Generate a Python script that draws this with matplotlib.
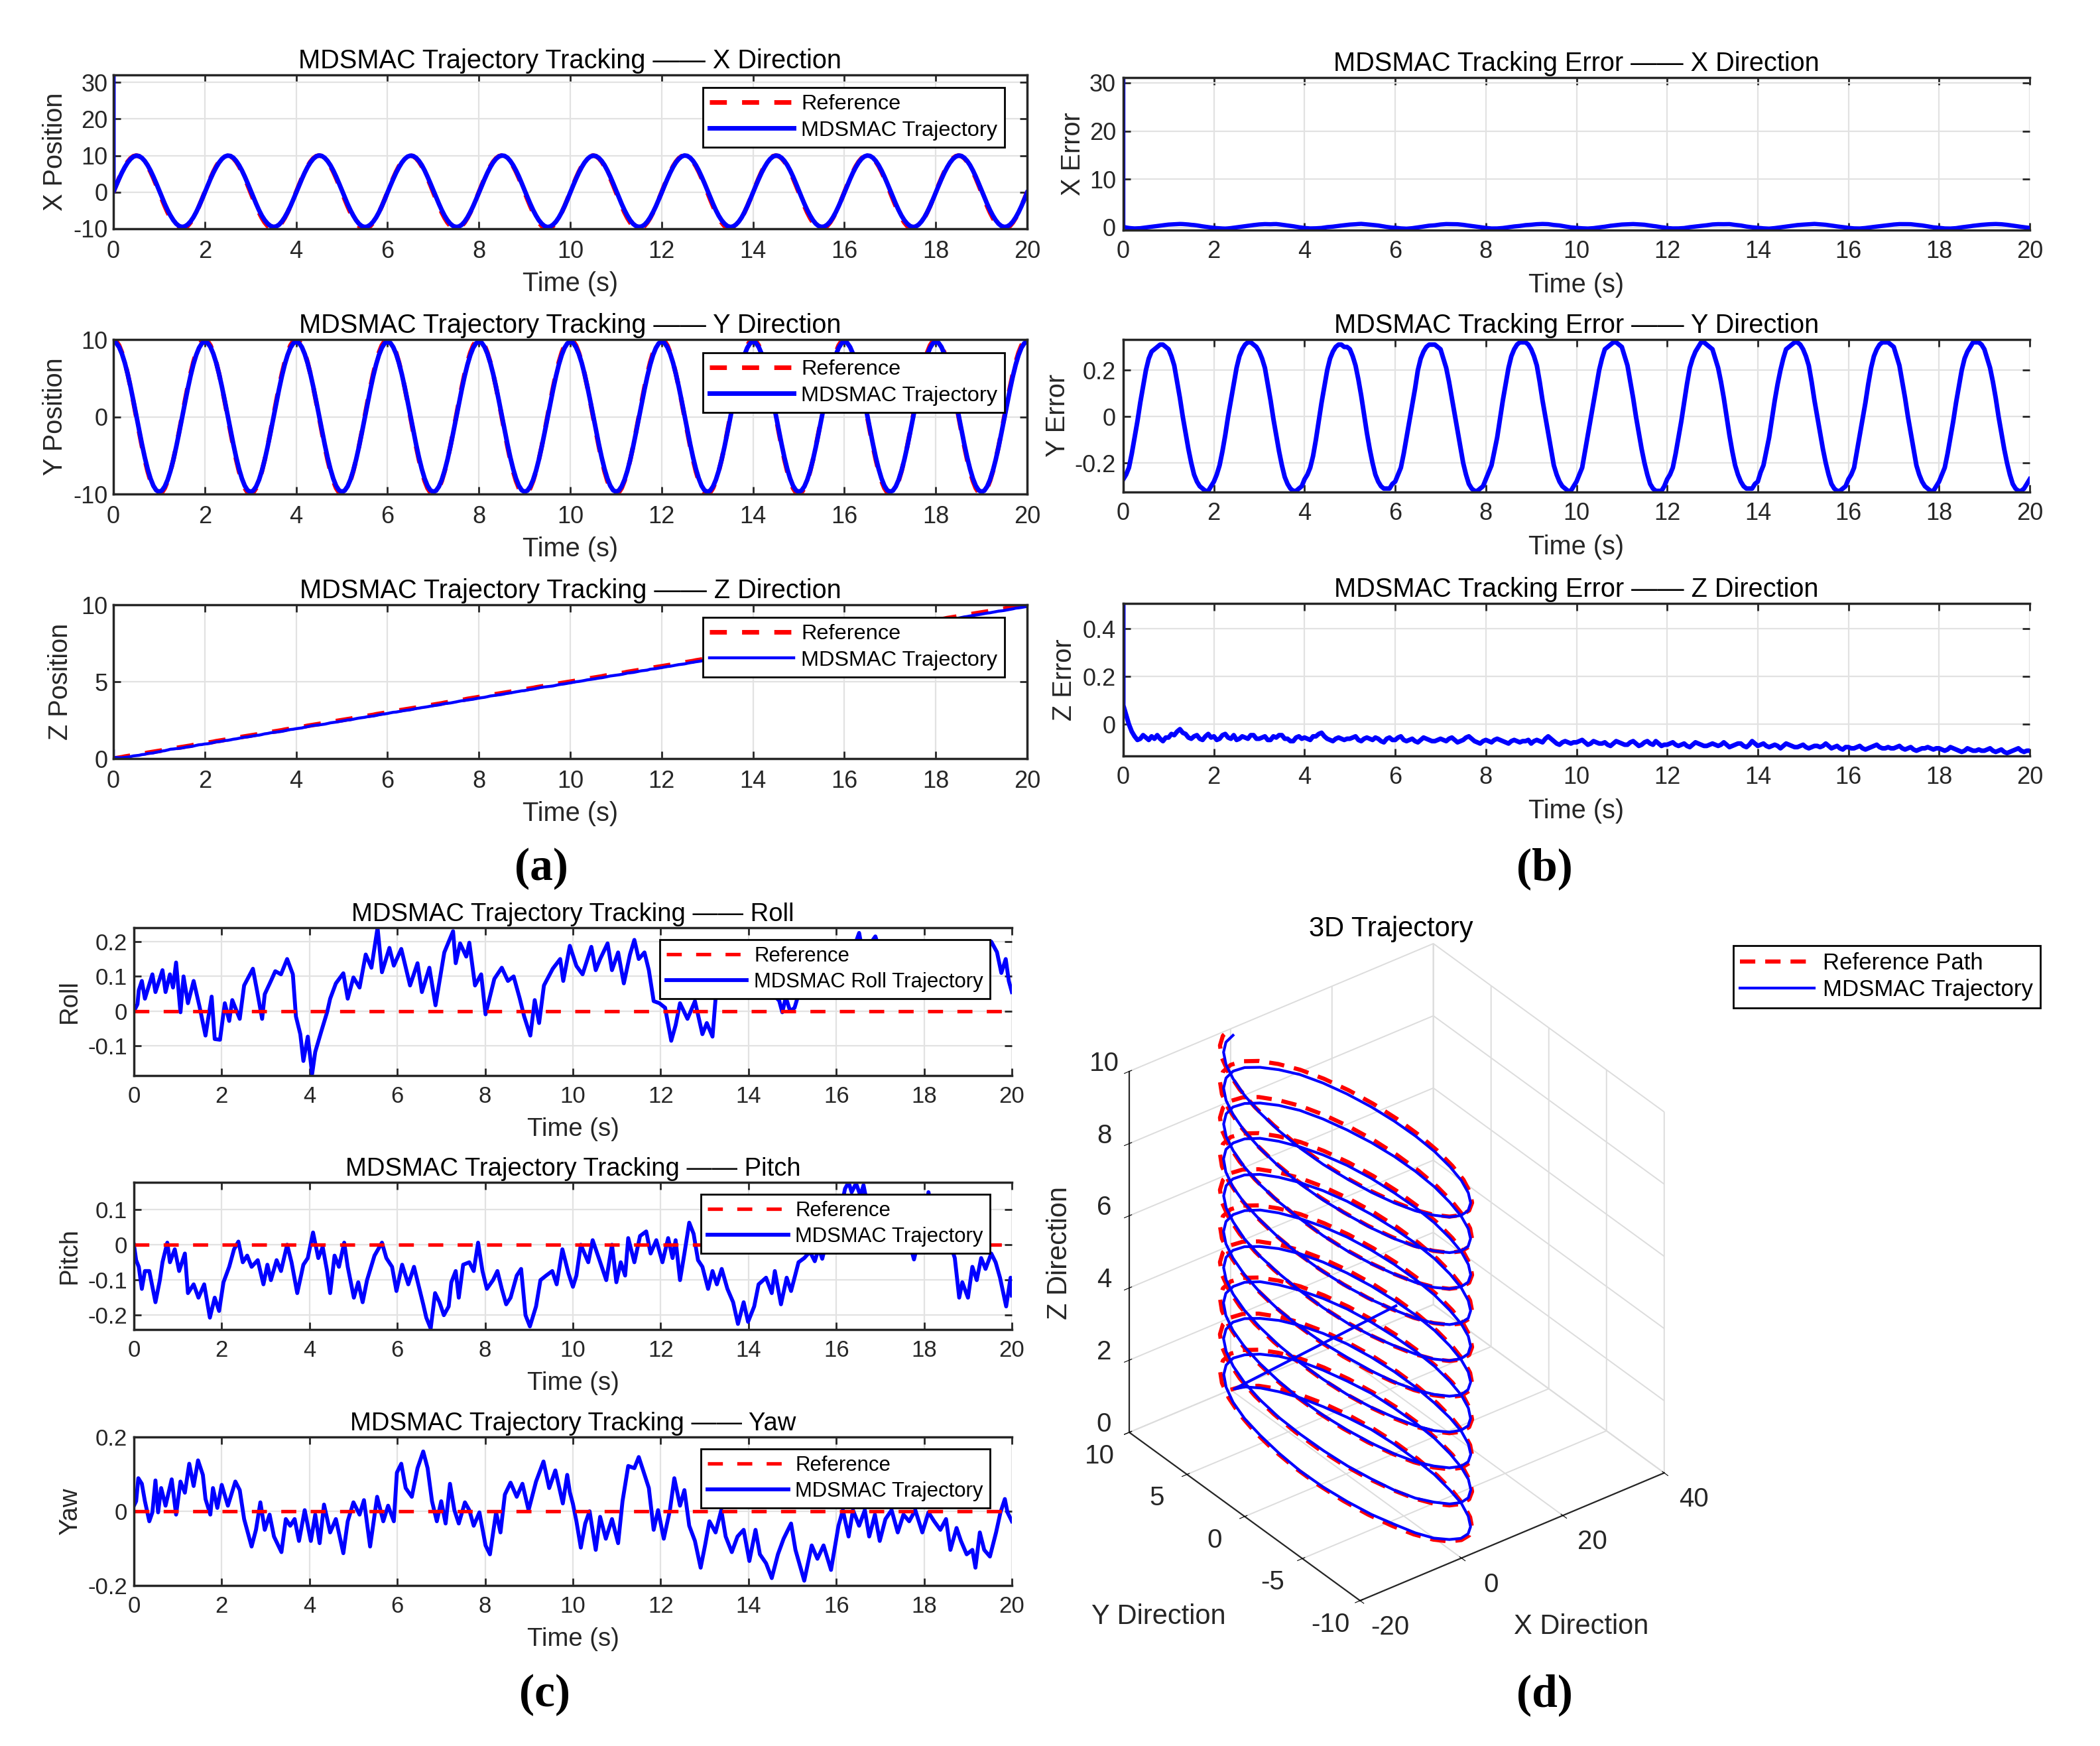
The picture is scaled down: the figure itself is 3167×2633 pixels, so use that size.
import numpy as np
import matplotlib
matplotlib.use("Agg")
import matplotlib.pyplot as plt
from matplotlib import ticker

plt.rcParams['font.family'] = ['Liberation Sans', 'DejaVu Sans']
plt.rcParams['axes.unicode_minus'] = False
plt.rcParams['grid.color'] = '#dcdcdc'
plt.rcParams['grid.linewidth'] = 1.4

# ---------------- data ----------------
T = np.arange(321) * 0.0625   # sample instants 0 .. 20 s

X_REF = [
 0.00, 1.95, 3.83, 5.56, 7.07, 8.31, 9.24, 9.81, 10.00, 9.81, 9.24, 8.31, 7.07, 5.56, 3.83, 1.95,
 0.00, -1.95, -3.83, -5.56, -7.07, -8.31, -9.24, -9.81, -10.00, -9.81, -9.24, -8.31, -7.07, -5.56, -3.83, -1.95,
 0.00, 1.95, 3.83, 5.56, 7.07, 8.31, 9.24, 9.81, 10.00, 9.81, 9.24, 8.31, 7.07, 5.56, 3.83, 1.95,
 0.00, -1.95, -3.83, -5.56, -7.07, -8.31, -9.24, -9.81, -10.00, -9.81, -9.24, -8.31, -7.07, -5.56, -3.83, -1.95,
 0.00, 1.95, 3.83, 5.56, 7.07, 8.31, 9.24, 9.81, 10.00, 9.81, 9.24, 8.31, 7.07, 5.56, 3.83, 1.95,
 0.00, -1.95, -3.83, -5.56, -7.07, -8.31, -9.24, -9.81, -10.00, -9.81, -9.24, -8.31, -7.07, -5.56, -3.83, -1.95,
 0.00, 1.95, 3.83, 5.56, 7.07, 8.31, 9.24, 9.81, 10.00, 9.81, 9.24, 8.31, 7.07, 5.56, 3.83, 1.95,
 0.00, -1.95, -3.83, -5.56, -7.07, -8.31, -9.24, -9.81, -10.00, -9.81, -9.24, -8.31, -7.07, -5.56, -3.83, -1.95,
 0.00, 1.95, 3.83, 5.56, 7.07, 8.31, 9.24, 9.81, 10.00, 9.81, 9.24, 8.31, 7.07, 5.56, 3.83, 1.95,
 0.00, -1.95, -3.83, -5.56, -7.07, -8.31, -9.24, -9.81, -10.00, -9.81, -9.24, -8.31, -7.07, -5.56, -3.83, -1.95,
 0.00, 1.95, 3.83, 5.56, 7.07, 8.31, 9.24, 9.81, 10.00, 9.81, 9.24, 8.31, 7.07, 5.56, 3.83, 1.95,
 0.00, -1.95, -3.83, -5.56, -7.07, -8.31, -9.24, -9.81, -10.00, -9.81, -9.24, -8.31, -7.07, -5.56, -3.83, -1.95,
 0.00, 1.95, 3.83, 5.56, 7.07, 8.31, 9.24, 9.81, 10.00, 9.81, 9.24, 8.31, 7.07, 5.56, 3.83, 1.95,
 0.00, -1.95, -3.83, -5.56, -7.07, -8.31, -9.24, -9.81, -10.00, -9.81, -9.24, -8.31, -7.07, -5.56, -3.83, -1.95,
 0.00, 1.95, 3.83, 5.56, 7.07, 8.31, 9.24, 9.81, 10.00, 9.81, 9.24, 8.31, 7.07, 5.56, 3.83, 1.95,
 0.00, -1.95, -3.83, -5.56, -7.07, -8.31, -9.24, -9.81, -10.00, -9.81, -9.24, -8.31, -7.07, -5.56, -3.83, -1.95,
 0.00, 1.95, 3.83, 5.56, 7.07, 8.31, 9.24, 9.81, 10.00, 9.81, 9.24, 8.31, 7.07, 5.56, 3.83, 1.95,
 0.00, -1.95, -3.83, -5.56, -7.07, -8.31, -9.24, -9.81, -10.00, -9.81, -9.24, -8.31, -7.07, -5.56, -3.83, -1.95,
 0.00, 1.95, 3.83, 5.56, 7.07, 8.31, 9.24, 9.81, 10.00, 9.81, 9.24, 8.31, 7.07, 5.56, 3.83, 1.95,
 0.00, -1.95, -3.83, -5.56, -7.07, -8.31, -9.24, -9.81, -10.00, -9.81, -9.24, -8.31, -7.07, -5.56, -3.83, -1.95,
 0.00]

Y_REF = [
 10.00, 9.81, 9.24, 8.31, 7.07, 5.56, 3.83, 1.95, 0.00, -1.95, -3.83, -5.56, -7.07, -8.31, -9.24, -9.81,
 -10.00, -9.81, -9.24, -8.31, -7.07, -5.56, -3.83, -1.95, 0.00, 1.95, 3.83, 5.56, 7.07, 8.31, 9.24, 9.81,
 10.00, 9.81, 9.24, 8.31, 7.07, 5.56, 3.83, 1.95, 0.00, -1.95, -3.83, -5.56, -7.07, -8.31, -9.24, -9.81,
 -10.00, -9.81, -9.24, -8.31, -7.07, -5.56, -3.83, -1.95, 0.00, 1.95, 3.83, 5.56, 7.07, 8.31, 9.24, 9.81,
 10.00, 9.81, 9.24, 8.31, 7.07, 5.56, 3.83, 1.95, 0.00, -1.95, -3.83, -5.56, -7.07, -8.31, -9.24, -9.81,
 -10.00, -9.81, -9.24, -8.31, -7.07, -5.56, -3.83, -1.95, 0.00, 1.95, 3.83, 5.56, 7.07, 8.31, 9.24, 9.81,
 10.00, 9.81, 9.24, 8.31, 7.07, 5.56, 3.83, 1.95, 0.00, -1.95, -3.83, -5.56, -7.07, -8.31, -9.24, -9.81,
 -10.00, -9.81, -9.24, -8.31, -7.07, -5.56, -3.83, -1.95, 0.00, 1.95, 3.83, 5.56, 7.07, 8.31, 9.24, 9.81,
 10.00, 9.81, 9.24, 8.31, 7.07, 5.56, 3.83, 1.95, 0.00, -1.95, -3.83, -5.56, -7.07, -8.31, -9.24, -9.81,
 -10.00, -9.81, -9.24, -8.31, -7.07, -5.56, -3.83, -1.95, 0.00, 1.95, 3.83, 5.56, 7.07, 8.31, 9.24, 9.81,
 10.00, 9.81, 9.24, 8.31, 7.07, 5.56, 3.83, 1.95, 0.00, -1.95, -3.83, -5.56, -7.07, -8.31, -9.24, -9.81,
 -10.00, -9.81, -9.24, -8.31, -7.07, -5.56, -3.83, -1.95, 0.00, 1.95, 3.83, 5.56, 7.07, 8.31, 9.24, 9.81,
 10.00, 9.81, 9.24, 8.31, 7.07, 5.56, 3.83, 1.95, 0.00, -1.95, -3.83, -5.56, -7.07, -8.31, -9.24, -9.81,
 -10.00, -9.81, -9.24, -8.31, -7.07, -5.56, -3.83, -1.95, 0.00, 1.95, 3.83, 5.56, 7.07, 8.31, 9.24, 9.81,
 10.00, 9.81, 9.24, 8.31, 7.07, 5.56, 3.83, 1.95, 0.00, -1.95, -3.83, -5.56, -7.07, -8.31, -9.24, -9.81,
 -10.00, -9.81, -9.24, -8.31, -7.07, -5.56, -3.83, -1.95, 0.00, 1.95, 3.83, 5.56, 7.07, 8.31, 9.24, 9.81,
 10.00, 9.81, 9.24, 8.31, 7.07, 5.56, 3.83, 1.95, 0.00, -1.95, -3.83, -5.56, -7.07, -8.31, -9.24, -9.81,
 -10.00, -9.81, -9.24, -8.31, -7.07, -5.56, -3.83, -1.95, 0.00, 1.95, 3.83, 5.56, 7.07, 8.31, 9.24, 9.81,
 10.00, 9.81, 9.24, 8.31, 7.07, 5.56, 3.83, 1.95, 0.00, -1.95, -3.83, -5.56, -7.07, -8.31, -9.24, -9.81,
 -10.00, -9.81, -9.24, -8.31, -7.07, -5.56, -3.83, -1.95, 0.00, 1.95, 3.83, 5.56, 7.07, 8.31, 9.24, 9.81,
 10.00]

Z_REF = [
 0.00, 0.03, 0.06, 0.09, 0.13, 0.16, 0.19, 0.22, 0.25, 0.28, 0.31, 0.34, 0.38, 0.41, 0.44, 0.47,
 0.50, 0.53, 0.56, 0.59, 0.63, 0.66, 0.69, 0.72, 0.75, 0.78, 0.81, 0.84, 0.88, 0.91, 0.94, 0.97,
 1.00, 1.03, 1.06, 1.09, 1.13, 1.16, 1.19, 1.22, 1.25, 1.28, 1.31, 1.34, 1.38, 1.41, 1.44, 1.47,
 1.50, 1.53, 1.56, 1.59, 1.63, 1.66, 1.69, 1.72, 1.75, 1.78, 1.81, 1.84, 1.88, 1.91, 1.94, 1.97,
 2.00, 2.03, 2.06, 2.09, 2.13, 2.16, 2.19, 2.22, 2.25, 2.28, 2.31, 2.34, 2.38, 2.41, 2.44, 2.47,
 2.50, 2.53, 2.56, 2.59, 2.63, 2.66, 2.69, 2.72, 2.75, 2.78, 2.81, 2.84, 2.88, 2.91, 2.94, 2.97,
 3.00, 3.03, 3.06, 3.09, 3.13, 3.16, 3.19, 3.22, 3.25, 3.28, 3.31, 3.34, 3.38, 3.41, 3.44, 3.47,
 3.50, 3.53, 3.56, 3.59, 3.63, 3.66, 3.69, 3.72, 3.75, 3.78, 3.81, 3.84, 3.88, 3.91, 3.94, 3.97,
 4.00, 4.03, 4.06, 4.09, 4.13, 4.16, 4.19, 4.22, 4.25, 4.28, 4.31, 4.34, 4.38, 4.41, 4.44, 4.47,
 4.50, 4.53, 4.56, 4.59, 4.63, 4.66, 4.69, 4.72, 4.75, 4.78, 4.81, 4.84, 4.88, 4.91, 4.94, 4.97,
 5.00, 5.03, 5.06, 5.09, 5.13, 5.16, 5.19, 5.22, 5.25, 5.28, 5.31, 5.34, 5.38, 5.41, 5.44, 5.47,
 5.50, 5.53, 5.56, 5.59, 5.63, 5.66, 5.69, 5.72, 5.75, 5.78, 5.81, 5.84, 5.88, 5.91, 5.94, 5.97,
 6.00, 6.03, 6.06, 6.09, 6.13, 6.16, 6.19, 6.22, 6.25, 6.28, 6.31, 6.34, 6.38, 6.41, 6.44, 6.47,
 6.50, 6.53, 6.56, 6.59, 6.63, 6.66, 6.69, 6.72, 6.75, 6.78, 6.81, 6.84, 6.88, 6.91, 6.94, 6.97,
 7.00, 7.03, 7.06, 7.09, 7.13, 7.16, 7.19, 7.22, 7.25, 7.28, 7.31, 7.34, 7.38, 7.41, 7.44, 7.47,
 7.50, 7.53, 7.56, 7.59, 7.63, 7.66, 7.69, 7.72, 7.75, 7.78, 7.81, 7.84, 7.88, 7.91, 7.94, 7.97,
 8.00, 8.03, 8.06, 8.09, 8.13, 8.16, 8.19, 8.22, 8.25, 8.28, 8.31, 8.34, 8.38, 8.41, 8.44, 8.47,
 8.50, 8.53, 8.56, 8.59, 8.63, 8.66, 8.69, 8.72, 8.75, 8.78, 8.81, 8.84, 8.88, 8.91, 8.94, 8.97,
 9.00, 9.03, 9.06, 9.09, 9.13, 9.16, 9.19, 9.22, 9.25, 9.28, 9.31, 9.34, 9.38, 9.41, 9.44, 9.47,
 9.50, 9.53, 9.56, 9.59, 9.63, 9.66, 9.69, 9.72, 9.75, 9.78, 9.81, 9.84, 9.88, 9.91, 9.94, 9.97,
 10.00]

# tracking errors (trajectory - reference)
X_ERR = [
 0.10, -0.05, -0.15, -0.21, -0.25, -0.23, -0.20, -0.12, -0.05, 0.03, 0.10, 0.18, 0.25, 0.33, 0.40, 0.48,
 0.55, 0.58, 0.60, 0.64, 0.68, 0.66, 0.62, 0.57, 0.50, 0.45, 0.38, 0.28, 0.18, 0.10, 0.02, -0.06,
 -0.12, -0.18, -0.22, -0.26, -0.28, -0.24, -0.18, -0.10, -0.02, 0.06, 0.15, 0.22, 0.30, 0.38, 0.45, 0.52,
 0.58, 0.62, 0.65, 0.63, 0.62, 0.65, 0.66, 0.60, 0.52, 0.44, 0.35, 0.28, 0.20, 0.10, 0.00, -0.08,
 -0.15, -0.20, -0.25, -0.24, -0.22, -0.19, -0.15, -0.06, 0.02, 0.07, 0.12, 0.20, 0.28, 0.35, 0.42, 0.49,
 0.55, 0.58, 0.62, 0.67, 0.70, 0.65, 0.60, 0.54, 0.48, 0.42, 0.36, 0.26, 0.15, 0.06, -0.02, -0.09,
 -0.10, -0.17, -0.24, -0.27, -0.30, -0.25, -0.20, -0.12, -0.04, 0.05, 0.14, 0.23, 0.32, 0.36, 0.40, 0.48,
 0.57, 0.62, 0.66, 0.65, 0.64, 0.63, 0.62, 0.56, 0.50, 0.41, 0.33, 0.25, 0.18, 0.10, 0.01, -0.07,
 -0.14, -0.20, -0.26, -0.25, -0.25, -0.20, -0.16, -0.08, 0.00, 0.08, 0.16, 0.21, 0.27, 0.35, 0.44, 0.48,
 0.52, 0.58, 0.63, 0.66, 0.68, 0.66, 0.64, 0.55, 0.47, 0.42, 0.37, 0.26, 0.16, 0.06, -0.03, -0.08,
 -0.12, -0.17, -0.22, -0.25, -0.27, -0.23, -0.19, -0.11, -0.03, 0.04, 0.11, 0.20, 0.30, 0.36, 0.43, 0.50,
 0.56, 0.58, 0.61, 0.64, 0.66, 0.63, 0.60, 0.56, 0.52, 0.43, 0.34, 0.26, 0.19, 0.10, 0.00, -0.06,
 -0.16, -0.20, -0.25, -0.25, -0.24, -0.20, -0.17, -0.08, 0.01, 0.08, 0.15, 0.22, 0.29, 0.35, 0.41, 0.50,
 0.58, 0.61, 0.64, 0.63, 0.63, 0.64, 0.65, 0.57, 0.49, 0.43, 0.36, 0.25, 0.14, 0.06, -0.01, -0.06,
 -0.11, -0.17, -0.23, -0.26, -0.29, -0.24, -0.18, -0.10, -0.02, 0.06, 0.13, 0.22, 0.31, 0.38, 0.45, 0.50,
 0.54, 0.58, 0.62, 0.66, 0.69, 0.65, 0.61, 0.56, 0.51, 0.43, 0.35, 0.26, 0.17, 0.10, 0.02, -0.05,
 -0.13, -0.19, -0.24, -0.25, -0.26, -0.21, -0.16, -0.08, 0.00, 0.07, 0.14, 0.21, 0.28, 0.35, 0.42, 0.49,
 0.56, 0.61, 0.65, 0.65, 0.65, 0.64, 0.63, 0.56, 0.48, 0.43, 0.37, 0.28, 0.18, 0.08, -0.02, -0.07,
 -0.12, -0.19, -0.25, -0.26, -0.27, -0.23, -0.19, -0.10, -0.01, 0.06, 0.12, 0.21, 0.30, 0.37, 0.44, 0.50,
 0.55, 0.59, 0.63, 0.65, 0.67, 0.65, 0.62, 0.56, 0.50, 0.42, 0.34, 0.25, 0.16, 0.08, 0.00, -0.07,
 -0.14]

Y_ERR = [
 -0.27, -0.25, -0.22, -0.16, -0.09, -0.02, 0.06, 0.13, 0.20, 0.25, 0.28, 0.29, 0.30, 0.31, 0.31, 0.30,
 0.29, 0.26, 0.22, 0.15, 0.08, 0.00, -0.07, -0.14, -0.20, -0.25, -0.28, -0.30, -0.31, -0.32, -0.32, -0.30,
 -0.28, -0.25, -0.21, -0.15, -0.08, 0.00, 0.07, 0.14, 0.21, 0.26, 0.29, 0.31, 0.32, 0.32, 0.31, 0.30,
 0.28, 0.25, 0.21, 0.14, 0.07, -0.01, -0.08, -0.15, -0.21, -0.26, -0.29, -0.31, -0.32, -0.32, -0.31, -0.30,
 -0.27, -0.25, -0.22, -0.17, -0.10, -0.02, 0.06, 0.13, 0.20, 0.25, 0.28, 0.30, 0.31, 0.31, 0.30, 0.30,
 0.29, 0.26, 0.22, 0.16, 0.09, 0.01, -0.07, -0.14, -0.20, -0.25, -0.28, -0.30, -0.31, -0.31, -0.31, -0.29,
 -0.28, -0.25, -0.22, -0.16, -0.09, -0.02, 0.05, 0.12, 0.20, 0.25, 0.28, 0.30, 0.31, 0.31, 0.31, 0.30,
 0.29, 0.25, 0.21, 0.15, 0.08, 0.01, -0.06, -0.13, -0.20, -0.25, -0.29, -0.31, -0.32, -0.32, -0.31, -0.30,
 -0.27, -0.24, -0.21, -0.15, -0.09, -0.01, 0.07, 0.14, 0.21, 0.26, 0.29, 0.31, 0.32, 0.32, 0.32, 0.31,
 0.29, 0.26, 0.22, 0.15, 0.07, 0.00, -0.07, -0.14, -0.21, -0.25, -0.28, -0.30, -0.31, -0.32, -0.32, -0.30,
 -0.28, -0.25, -0.22, -0.15, -0.08, -0.01, 0.06, 0.13, 0.20, 0.25, 0.29, 0.30, 0.31, 0.32, 0.32, 0.31,
 0.30, 0.26, 0.22, 0.15, 0.08, 0.00, -0.07, -0.14, -0.20, -0.25, -0.29, -0.31, -0.32, -0.32, -0.32, -0.30,
 -0.27, -0.25, -0.22, -0.16, -0.09, -0.02, 0.06, 0.14, 0.21, 0.25, 0.28, 0.30, 0.32, 0.32, 0.31, 0.30,
 0.29, 0.25, 0.21, 0.15, 0.08, 0.00, -0.08, -0.15, -0.21, -0.25, -0.28, -0.30, -0.31, -0.31, -0.31, -0.29,
 -0.28, -0.24, -0.21, -0.15, -0.09, -0.01, 0.07, 0.14, 0.20, 0.25, 0.29, 0.30, 0.31, 0.32, 0.32, 0.31,
 0.29, 0.26, 0.22, 0.15, 0.07, 0.00, -0.07, -0.14, -0.20, -0.25, -0.29, -0.31, -0.32, -0.32, -0.31, -0.30,
 -0.27, -0.25, -0.22, -0.15, -0.08, -0.01, 0.06, 0.14, 0.21, 0.26, 0.29, 0.31, 0.32, 0.32, 0.32, 0.31,
 0.30, 0.26, 0.22, 0.15, 0.08, 0.00, -0.07, -0.14, -0.21, -0.25, -0.28, -0.30, -0.31, -0.32, -0.32, -0.30,
 -0.28, -0.25, -0.22, -0.16, -0.09, -0.02, 0.06, 0.13, 0.20, 0.25, 0.28, 0.30, 0.32, 0.32, 0.32, 0.31,
 0.29, 0.25, 0.21, 0.15, 0.08, 0.00, -0.07, -0.14, -0.20, -0.25, -0.29, -0.31, -0.32, -0.32, -0.31, -0.29,
 -0.27]

Z_ERR = [
 0.08, 0.04, 0.00, -0.03, -0.05, -0.065, -0.06, -0.045, -0.055, -0.065, -0.05, -0.06, -0.045, -0.06, -0.07, -0.055,
 -0.055, -0.04, -0.045, -0.03, -0.02, -0.035, -0.04, -0.055, -0.06, -0.05, -0.045, -0.06, -0.065, -0.05, -0.04, -0.055,
 -0.05, -0.065, -0.06, -0.045, -0.04, -0.055, -0.06, -0.045, -0.065, -0.06, -0.05, -0.055, -0.06, -0.045, -0.045, -0.06,
 -0.06, -0.055, -0.05, -0.065, -0.065, -0.05, -0.055, -0.045, -0.045, -0.06, -0.06, -0.07, -0.07, -0.055, -0.05, -0.06,
 -0.055, -0.06, -0.065, -0.05, -0.05, -0.04, -0.035, -0.05, -0.06, -0.065, -0.07, -0.06, -0.055, -0.06, -0.065, -0.06,
 -0.06, -0.055, -0.05, -0.065, -0.07, -0.06, -0.055, -0.06, -0.065, -0.055, -0.06, -0.07, -0.075, -0.06, -0.055, -0.065,
 -0.065, -0.055, -0.05, -0.065, -0.07, -0.065, -0.06, -0.07, -0.075, -0.065, -0.055, -0.06, -0.065, -0.07, -0.07, -0.065,
 -0.06, -0.065, -0.07, -0.06, -0.055, -0.065, -0.075, -0.07, -0.065, -0.055, -0.05, -0.06, -0.07, -0.075, -0.08, -0.07,
 -0.065, -0.07, -0.075, -0.065, -0.06, -0.065, -0.07, -0.075, -0.08, -0.07, -0.065, -0.07, -0.075, -0.07, -0.07, -0.065,
 -0.08, -0.07, -0.065, -0.07, -0.075, -0.06, -0.05, -0.06, -0.07, -0.08, -0.085, -0.075, -0.07, -0.075, -0.08, -0.075,
 -0.075, -0.07, -0.065, -0.075, -0.085, -0.08, -0.07, -0.075, -0.08, -0.08, -0.075, -0.085, -0.09, -0.08, -0.07, -0.075,
 -0.08, -0.085, -0.085, -0.075, -0.07, -0.08, -0.09, -0.085, -0.075, -0.07, -0.08, -0.085, -0.07, -0.08, -0.09, -0.085,
 -0.085, -0.08, -0.075, -0.085, -0.09, -0.085, -0.08, -0.09, -0.095, -0.085, -0.075, -0.08, -0.085, -0.09, -0.09, -0.085,
 -0.08, -0.085, -0.09, -0.085, -0.075, -0.085, -0.095, -0.09, -0.085, -0.08, -0.08, -0.09, -0.095, -0.085, -0.07, -0.08,
 -0.09, -0.085, -0.08, -0.09, -0.095, -0.09, -0.085, -0.09, -0.10, -0.09, -0.08, -0.085, -0.09, -0.095, -0.095, -0.09,
 -0.085, -0.095, -0.10, -0.095, -0.09, -0.09, -0.095, -0.09, -0.08, -0.09, -0.10, -0.095, -0.09, -0.10, -0.105, -0.095,
 -0.095, -0.10, -0.10, -0.095, -0.09, -0.10, -0.105, -0.10, -0.095, -0.09, -0.085, -0.095, -0.10, -0.10, -0.095, -0.10,
 -0.10, -0.095, -0.09, -0.10, -0.105, -0.10, -0.095, -0.105, -0.11, -0.105, -0.10, -0.10, -0.095, -0.10, -0.105, -0.10,
 -0.10, -0.105, -0.11, -0.105, -0.095, -0.10, -0.105, -0.11, -0.115, -0.11, -0.10, -0.105, -0.11, -0.11, -0.105, -0.11,
 -0.11, -0.105, -0.10, -0.11, -0.115, -0.11, -0.105, -0.115, -0.12, -0.115, -0.11, -0.105, -0.10, -0.11, -0.115, -0.11,
 -0.11]

# initial transient values at t = 0
X_SPIKE, X_ERR_SPIKE, Z_SPIKE, Z_ERR_SPIKE = 32.0, 31.1, 0.5, 0.5

_n = min(len(T), len(X_REF), len(Y_REF), len(Z_REF), len(X_ERR), len(Y_ERR), len(Z_ERR))
T = T[:_n]
X_REF, Y_REF, Z_REF = np.array(X_REF[:_n]), np.array(Y_REF[:_n]), np.array(Z_REF[:_n])
X_ERR, Y_ERR, Z_ERR = np.array(X_ERR[:_n]), np.array(Y_ERR[:_n]), np.array(Z_ERR[:_n])
X_TRAJ = X_REF + X_ERR
Y_TRAJ = Y_REF + Y_ERR
Z_TRAJ = Z_REF + Z_ERR

REF_T = [0, 20]
REF_ZERO = [0, 0]

ROLL_T = [0, 0.08, 0.11, 0.18, 0.25, 0.42, 0.49, 0.65, 0.72, 0.82,
 0.89, 0.96, 1.06, 1.13, 1.23, 1.36, 1.5, 1.63, 1.77, 1.84,
 1.96, 2.07, 2.17, 2.24, 2.41, 2.51, 2.71, 2.81, 2.92, 2.98,
 3.12, 3.22, 3.35, 3.49, 3.62, 3.69, 3.79, 3.86, 3.96, 4.06,
 4.13, 4.27, 4.4, 4.47, 4.6, 4.77, 4.87, 5.0, 5.14, 5.28,
 5.41, 5.55, 5.65, 5.82, 5.92, 6.09, 6.29, 6.46, 6.56, 6.73,
 6.87, 7.07, 7.27, 7.33, 7.43, 7.57, 7.64, 7.77, 7.91, 8.01,
 8.21, 8.38, 8.52, 8.65, 8.79, 8.89, 9.03, 9.13, 9.23, 9.34,
 9.54, 9.71, 9.78, 9.93, 10.08, 10.22, 10.42, 10.52, 10.62, 10.79,
 10.89, 11.03, 11.16, 11.3, 11.4, 11.5, 11.63, 11.73, 11.84, 11.97,
 12.1, 12.24, 12.34, 12.44, 12.61, 12.78, 12.95, 13.05, 13.18, 13.25,
 13.35, 13.5, 13.65, 13.8, 13.95, 14.1, 14.25, 14.4, 14.55, 14.7,
 14.77, 14.85, 14.95, 15.05, 15.12, 15.25, 15.4, 15.55, 15.7, 15.85,
 16.0, 16.15, 16.3, 16.45, 16.52, 16.6, 16.75, 16.89, 17.0, 17.15,
 17.3, 17.45, 17.6, 17.75, 17.9, 18.05, 18.2, 18.35, 18.5, 18.65,
 18.8, 18.95, 19.1, 19.25, 19.4, 19.53, 19.66, 19.76, 19.86, 19.93,
 20.0]
ROLL = [0.0, 0.02, 0.06, 0.087, 0.036, 0.106, 0.055, 0.118, 0.055, 0.106,
 0.068, 0.14, -0.003, 0.1, 0.023, 0.087, 0.01, -0.07, 0.042, -0.08,
 -0.082, 0.023, -0.028, 0.032, -0.022, 0.074, 0.122, 0.055, -0.022, 0.049,
 0.087, 0.115, 0.106, 0.15, 0.106, -0.015, -0.066, -0.143, -0.073, -0.18,
 -0.117, -0.057, -0.003, 0.036, 0.08, 0.109, 0.036, 0.097, 0.068, 0.163,
 0.125, 0.24, 0.112, 0.182, 0.131, 0.179, 0.074, 0.138, 0.055, 0.125,
 0.017, 0.169, 0.23, 0.138, 0.195, 0.157, 0.197, 0.074, 0.106, -0.009,
 0.093, 0.125, 0.087, 0.1, 0.036, -0.015, -0.07, 0.032, -0.034, 0.074,
 0.122, 0.15, 0.087, 0.188, 0.13, 0.106, 0.185, 0.118, 0.15, 0.195,
 0.118, 0.169, 0.08, 0.163, 0.205, 0.15, 0.169, 0.118, 0.029, 0.023,
 0.01, -0.085, -0.04, 0.023, -0.022, 0.029, -0.066, -0.034, -0.073, 0.036,
 0.08, 0.12, 0.07, 0.13, 0.1, 0.15, 0.09, 0.11, 0.05, 0.03,
 -0.003, 0.04, 0.0, 0.01, 0.04, 0.09, 0.07, 0.12, 0.1, 0.15,
 0.13, 0.18, 0.16, 0.2, 0.225, 0.17, 0.19, 0.215, 0.17, 0.18,
 0.14, 0.16, 0.12, 0.15, 0.11, 0.14, 0.1, 0.13, 0.09, 0.12,
 0.15, 0.13, 0.17, 0.15, 0.19, 0.2, 0.17, 0.11, 0.15, 0.087,
 0.055]

PITCH_T = [0, 0.05, 0.11, 0.18, 0.25, 0.35, 0.49, 0.59, 0.65, 0.76,
 0.82, 0.93, 1.03, 1.16, 1.23, 1.36, 1.47, 1.6, 1.73, 1.84,
 1.94, 2.04, 2.17, 2.28, 2.38, 2.48, 2.58, 2.68, 2.82, 2.95,
 3.04, 3.12, 3.25, 3.35, 3.49, 3.59, 3.72, 3.86, 3.96, 4.08,
 4.2, 4.3, 4.4, 4.47, 4.57, 4.67, 4.79, 4.87, 5.01, 5.11,
 5.21, 5.31, 5.48, 5.65, 5.75, 5.88, 5.98, 6.11, 6.25, 6.38,
 6.49, 6.59, 6.66, 6.76, 6.86, 6.96, 7.06, 7.17, 7.23, 7.33,
 7.4, 7.5, 7.64, 7.74, 7.84, 7.94, 8.04, 8.18, 8.28, 8.38,
 8.48, 8.58, 8.72, 8.82, 8.92, 9.02, 9.16, 9.26, 9.39, 9.53,
 9.63, 9.76, 9.9, 10.0, 10.08, 10.18, 10.35, 10.45, 10.59, 10.76,
 10.89, 10.99, 11.09, 11.19, 11.26, 11.4, 11.53, 11.67, 11.77, 11.9,
 12.04, 12.17, 12.27, 12.34, 12.44, 12.54, 12.65, 12.75, 12.85, 12.95,
 13.08, 13.18, 13.28, 13.39, 13.52, 13.65, 13.76, 13.89, 13.99, 14.13,
 14.23, 14.4, 14.53, 14.6, 14.74, 14.87, 14.97, 15.14, 15.27, 15.4,
 15.51, 15.6, 15.68, 15.8, 15.95, 16.1, 16.2, 16.28, 16.35, 16.45,
 16.55, 16.62, 16.7, 16.85, 17.0, 17.15, 17.3, 17.45, 17.6, 17.7,
 17.77, 17.85, 17.95, 18.05, 18.1, 18.2, 18.35, 18.5, 18.6, 18.7,
 18.8, 18.87, 19.0, 19.1, 19.2, 19.3, 19.4, 19.53, 19.63, 19.73,
 19.87, 19.97, 20.0]
PITCH = [0, -0.044, -0.063, -0.126, -0.075, -0.075, -0.164, -0.101, -0.05, 0.006,
 -0.05, -0.013, -0.075, -0.025, -0.138, -0.113, -0.151, -0.113, -0.208, -0.151,
 -0.189, -0.107, -0.063, -0.013, 0.009, -0.05, -0.031, -0.063, -0.044, -0.113,
 -0.057, -0.101, -0.044, -0.075, 0.0, -0.05, -0.138, -0.057, -0.038, 0.035,
 -0.038, -0.006, -0.075, -0.138, -0.031, -0.063, 0.006, -0.063, -0.151, -0.107,
 -0.164, -0.101, -0.031, 0.006, -0.038, -0.063, -0.132, -0.057, -0.113, -0.063,
 -0.119, -0.17, -0.208, -0.239, -0.138, -0.164, -0.201, -0.176, -0.107, -0.075,
 -0.151, -0.057, -0.05, -0.075, 0.006, -0.075, -0.126, -0.101, -0.075, -0.126,
 -0.17, -0.151, -0.088, -0.069, -0.201, -0.233, -0.176, -0.101, -0.088, -0.075,
 -0.113, -0.013, -0.082, -0.12, -0.088, 0.0, -0.05, 0.013, -0.038, -0.101,
 0.0, -0.107, -0.05, -0.088, 0.019, -0.05, 0.025, 0.038, -0.025, 0.013,
 -0.05, 0.019, -0.038, 0.013, -0.101, -0.025, 0.063, 0.031, -0.044, -0.063,
 -0.126, -0.075, -0.113, -0.069, -0.126, -0.164, -0.226, -0.164, -0.22, -0.176,
 -0.113, -0.094, -0.138, -0.075, -0.17, -0.094, -0.132, -0.05, -0.038, -0.02,
 -0.047, -0.01, -0.04, 0.02, 0.05, 0.1, 0.16, 0.178, 0.15, 0.175,
 0.14, 0.17, 0.12, 0.08, 0.1, 0.05, 0.07, 0.02, 0.03, -0.01,
 -0.042, 0.0, 0.06, 0.1, 0.15, 0.09, 0.05, 0.02, 0.0, -0.038,
 -0.151, -0.107, -0.151, -0.063, -0.101, -0.038, -0.069, -0.025, -0.05, -0.094,
 -0.176, -0.094, -0.145]

YAW_T = [0, 0.05, 0.1, 0.18, 0.25, 0.35, 0.42, 0.49, 0.55, 0.62,
 0.72, 0.86, 0.96, 1.06, 1.16, 1.26, 1.36, 1.46, 1.57, 1.63,
 1.74, 1.8, 1.9, 2.0, 2.14, 2.31, 2.41, 2.51, 2.68, 2.78,
 2.88, 2.98, 3.09, 3.19, 3.36, 3.46, 3.56, 3.66, 3.76, 3.89,
 4.03, 4.13, 4.23, 4.33, 4.47, 4.6, 4.77, 4.87, 5.0, 5.14,
 5.24, 5.38, 5.54, 5.68, 5.79, 5.92, 5.99, 6.09, 6.19, 6.33,
 6.46, 6.59, 6.69, 6.79, 6.9, 7.0, 7.1, 7.2, 7.3, 7.4,
 7.54, 7.64, 7.74, 7.87, 8.01, 8.11, 8.25, 8.35, 8.45, 8.58,
 8.72, 8.85, 8.99, 9.16, 9.33, 9.46, 9.6, 9.77, 9.87, 9.93,
 10.0, 10.08, 10.18, 10.28, 10.38, 10.52, 10.62, 10.75, 10.89, 11.03,
 11.13, 11.26, 11.4, 11.5, 11.6, 11.73, 11.84, 11.94, 12.07, 12.21,
 12.31, 12.44, 12.54, 12.65, 12.78, 12.91, 13.01, 13.11, 13.25, 13.38,
 13.48, 13.62, 13.75, 13.89, 14.02, 14.16, 14.26, 14.4, 14.53, 14.67,
 14.8, 14.97, 15.07, 15.27, 15.44, 15.57, 15.71, 15.88, 16.05, 16.15,
 16.28, 16.38, 16.52, 16.65, 16.75, 16.88, 16.99, 17.12, 17.26, 17.4,
 17.53, 17.66, 17.8, 17.96, 18.1, 18.23, 18.37, 18.5, 18.6, 18.74,
 18.84, 18.97, 19.1, 19.17, 19.27, 19.37, 19.5, 19.64, 19.74, 19.84,
 19.9, 20.0]
YAW = [0.015, 0.027, 0.089, 0.074, 0.027, -0.027, -0.003, 0.083, -0.003, 0.0625,
 0.015, 0.086, -0.009, 0.08, 0.05, 0.128, 0.068, 0.137, 0.098, 0.033,
 -0.009, 0.0625, 0.009, 0.071, 0.015, 0.08, 0.057, -0.021, -0.095, -0.05,
 0.024, -0.05, -0.009, -0.068, -0.11, -0.021, -0.039, -0.021, -0.08, 0.003,
 -0.08, -0.009, -0.086, 0.018, -0.057, -0.021, -0.113, -0.027, 0.024, -0.009,
 0.03, -0.095, 0.039, -0.027, 0.015, -0.027, 0.104, 0.128, 0.0625, 0.039,
 0.116, 0.161, 0.116, 0.027, -0.027, 0.027, -0.033, 0.074, 0.003, -0.033,
 0.024, 0.003, -0.039, -0.003, -0.092, -0.116, -0.003, -0.057, 0.045, 0.077,
 0.039, 0.074, 0.003, 0.08, 0.134, 0.0625, 0.11, 0.021, 0.098, 0.051,
 0.02, -0.027, -0.098, -0.033, 0.0, -0.104, -0.015, -0.074, -0.021, -0.086,
 0.027, 0.122, 0.116, 0.146, 0.11, 0.0625, -0.05, 0.003, -0.074, 0.003,
 0.089, 0.015, 0.057, -0.039, -0.08, -0.152, -0.092, -0.027, -0.057, 0.003,
 -0.068, -0.11, -0.068, -0.05, -0.134, -0.05, -0.116, -0.14, -0.18, -0.116,
 -0.074, -0.033, -0.104, -0.187, -0.092, -0.128, -0.092, -0.158, -0.039, 0.003,
 -0.068, 0.003, -0.039, 0.003, -0.068, -0.009, -0.08, -0.021, 0.003, -0.057,
 -0.009, -0.027, 0.003, -0.057, -0.003, -0.027, -0.05, -0.021, -0.104, -0.045,
 -0.08, -0.116, -0.104, -0.152, -0.057, -0.104, -0.122, -0.057, -0.003, 0.033,
 -0.003, -0.027]

TIME_TICKS = list(range(0, 21, 2))
X3_TICKS = [-20, 0, 20, 40]
Y3_TICKS = [-10, -5, 0, 5, 10]
Z3_TICKS = [0, 2, 4, 6, 8, 10]

# ---------------- figure ----------------
W, H = 3167, 2633
fig = plt.figure(figsize=(W / 100, H / 100), dpi=100)
fig.patch.set_facecolor('white')
RED = '#ff0000'
BLUE = '#0000ff'
AXC = '#262626'
fmt = ticker.FuncFormatter(lambda v, p: f'{v:g}')


def add_ax(box):
    l, t, r, b = box
    return fig.add_axes([l / W, 1 - b / H, (r - l) / W, (b - t) / H])


def style(ax, box, ylim, yticks, tfs, xpad, ypad, right=True):
    ax.set_xlim(0, 20)
    ax.set_ylim(*ylim)
    ax.set_xticks(TIME_TICKS)
    ax.set_yticks(yticks)
    ax.xaxis.set_major_formatter(fmt)
    ax.yaxis.set_major_formatter(fmt)
    ax.tick_params(direction='in', length=8, width=2, color=AXC, labelcolor=AXC,
                   top=True, right=True, labelsize=tfs)
    ax.tick_params(axis='x', pad=xpad)
    ax.tick_params(axis='y', pad=ypad)
    ax.grid(True, color='#e2e2e2', lw=1.6)
    ax.set_axisbelow(True)
    for s in ax.spines.values():
        s.set_color(AXC)
        s.set_linewidth(2.5)
    if not right:
        ax.spines['right'].set_visible(False)


def texts(ax, box, title, ylab, ylab_dx, fs, xlab_dy=94):
    l, t, r, b = box
    w, h = r - l, b - t
    ax.set_title(title, fontsize=fs, pad=7.5)
    ax.set_xlabel('Time (s)', fontsize=fs, color=AXC)
    ax.xaxis.set_label_coords(0.5, -xlab_dy / h)
    ax.xaxis.label.set_va('baseline')
    ax.set_ylabel(ylab, fontsize=fs, color=AXC)
    ax.yaxis.set_label_coords(-ylab_dx / w, 0.5)
    ax.yaxis.label.set_va('center')


def legend(ax, handles, labels, anchor, fs, hl):
    lg = ax.legend(handles, labels, loc='upper right', bbox_to_anchor=anchor,
                   borderaxespad=0, fontsize=fs, handlelength=hl, handletextpad=0.35,
                   borderpad=0.32, labelspacing=0.28, fancybox=False, framealpha=1,
                   edgecolor='black')
    lg.get_frame().set_linewidth(2)
    lg.set_zorder(10)
    return lg


DASH_A = (0, (3.7, 3.3))
LW_A = 5.0
FS_A = 28.6
TFS_A = 26

# ----- panel (a) -----
boxA1 = (171, 113, 1549, 345)
ax = add_ax(boxA1)
r1, = ax.plot(T, X_REF, color=RED, ls=DASH_A, lw=LW_A)
b1, = ax.plot(np.r_[0.0, T], np.r_[X_SPIKE, X_TRAJ], color=BLUE, lw=LW_A)
style(ax, boxA1, (-10, 32), [-10, 0, 10, 20, 30], TFS_A, 12, 6)
texts(ax, boxA1, 'MDSMAC Trajectory Tracking —— X Direction', 'X Position', 88, FS_A)
legend(ax, [r1, b1], ['Reference', 'MDSMAC Trajectory'], (0.975, 0.918), 23.4, 3.9)

boxA2 = (171, 512, 1549, 745)
ax = add_ax(boxA2)
r1, = ax.plot(T, Y_REF, color=RED, ls=DASH_A, lw=LW_A)
b1, = ax.plot(T, Y_TRAJ, color=BLUE, lw=LW_A)
style(ax, boxA2, (-10, 10), [-10, 0, 10], TFS_A, 12, 6)
texts(ax, boxA2, 'MDSMAC Trajectory Tracking —— Y Direction', 'Y Position', 88, FS_A)
legend(ax, [r1, b1], ['Reference', 'MDSMAC Trajectory'], (0.975, 0.914), 23.4, 3.9)

boxA3 = (171, 912, 1549, 1144)
ax = add_ax(boxA3)
r1, = ax.plot(T, Z_REF, color=RED, ls=DASH_A, lw=LW_A)
b1, = ax.plot(np.r_[0.0, T], np.r_[Z_SPIKE, Z_TRAJ], color=BLUE, lw=3.2)
style(ax, boxA3, (0, 10), [0, 5, 10], TFS_A, 12, 6)
texts(ax, boxA3, 'MDSMAC Trajectory Tracking —— Z Direction', 'Z Position', 80, FS_A)
legend(ax, [r1, b1], ['Reference', 'MDSMAC Trajectory'], (0.975, 0.918), 23.4, 3.9)

# ----- panel (b) -----
boxB1 = (1694, 117, 3061, 347)
ax = add_ax(boxB1)
ax.plot(np.r_[0.0, T], np.r_[X_ERR_SPIKE, X_ERR], color=BLUE, lw=4.6)
style(ax, boxB1, (-0.6, 31.1), [0, 10, 20, 30], TFS_A, 11, 8, right=False)
texts(ax, boxB1, 'MDSMAC Tracking Error —— X Direction', 'X Error', 76, FS_A)

boxB2 = (1694, 512, 3061, 742)
ax = add_ax(boxB2)
ax.plot(T, Y_ERR, color=BLUE, lw=5.0)
style(ax, boxB2, (-0.325, 0.332), [-0.2, 0, 0.2], TFS_A, 11, 8, right=False)
texts(ax, boxB2, 'MDSMAC Tracking Error —— Y Direction', 'Y Error', 99, FS_A)

boxB3 = (1694, 910, 3061, 1140)
ax = add_ax(boxB3)
ax.plot(np.r_[0.0, T], np.r_[Z_ERR_SPIKE, Z_ERR], color=BLUE, lw=5.0)
style(ax, boxB3, (-0.132, 0.506), [0, 0.2, 0.4], TFS_A, 11, 8, right=False)
texts(ax, boxB3, 'MDSMAC Tracking Error —— Z Direction', 'Z Error', 89, FS_A)

# ----- panel (c) -----
DASH_C = (0, (4.3, 4.1))
FS_C = 27.5
TFS_C = 25

boxC1 = (202, 1399, 1526, 1622)
ax = add_ax(boxC1)
b1, = ax.plot(ROLL_T, ROLL, color=BLUE, lw=4.2)
r1, = ax.plot(REF_T, REF_ZERO, color=RED, ls=DASH_C, lw=3.8)
style(ax, boxC1, (-0.185, 0.24), [-0.1, 0, 0.1, 0.2], TFS_C, 11, 7, right=False)
texts(ax, boxC1, 'MDSMAC Trajectory Tracking —— Roll', 'Roll', 97, FS_C, 91)
legend(ax, [r1, b1], ['Reference', 'MDSMAC Roll Trajectory'], (0.975, 0.919), 22.4, 3.9)

boxC2 = (202, 1783, 1526, 2005)
ax = add_ax(boxC2)
b1, = ax.plot(PITCH_T, PITCH, color=BLUE, lw=4.2)
r1, = ax.plot(REF_T, REF_ZERO, color=RED, ls=DASH_C, lw=3.8)
style(ax, boxC2, (-0.242, 0.178), [-0.2, -0.1, 0, 0.1], TFS_C, 11, 7, right=False)
texts(ax, boxC2, 'MDSMAC Trajectory Tracking —— Pitch', 'Pitch', 97, FS_C, 91)
legend(ax, [r1, b1], ['Reference', 'MDSMAC Trajectory'], (0.975, 0.919), 22.4, 3.9)

boxC3 = (202, 2167, 1526, 2391)
ax = add_ax(boxC3)
b1, = ax.plot(YAW_T, YAW, color=BLUE, lw=4.2)
r1, = ax.plot(REF_T, REF_ZERO, color=RED, ls=DASH_C, lw=3.8)
style(ax, boxC3, (-0.2, 0.2), [-0.2, 0, 0.2], TFS_C, 11, 7, right=False)
texts(ax, boxC3, 'MDSMAC Trajectory Tracking —— Yaw', 'Yaw', 96, FS_C, 91)
legend(ax, [r1, b1], ['Reference', 'MDSMAC Trajectory'], (0.975, 0.92), 22.4, 3.9)

# ----- panel (d) : 3D -----
S0 = 1000
ax3 = fig.add_axes([1650 / W, (H - 2450) / H, S0 / W, S0 / H], projection='3d')
ax3.set_facecolor('none')
ax3.computed_zorder = False
ax3.set_proj_type('ortho')
ax3.view_init(elev=33.6, azim=-127.2)
ax3.set_box_aspect((1, 1, 1.135))
r3, = ax3.plot(X_REF, Y_REF, Z_REF, color=RED, ls=(0, (3.7, 2.4)), lw=4.5, zorder=2)
b3, = ax3.plot(np.r_[X_SPIKE, X_TRAJ], np.r_[Y_TRAJ[0], Y_TRAJ], np.r_[Z_SPIKE, Z_TRAJ],
               color=BLUE, lw=3.0, zorder=3)
ax3.set_xlim(-20, 40)
ax3.set_ylim(-10, 10)
ax3.set_zlim(0, 10)
ax3.set_xticks(X3_TICKS)
ax3.set_yticks(Y3_TICKS)
ax3.set_zticks(Z3_TICKS)
ax3.set_xticklabels([])
ax3.set_yticklabels([])
ax3.set_zticklabels([])
for a in (ax3.xaxis, ax3.yaxis, ax3.zaxis):
    a.set_pane_color((1, 1, 1, 0))
    a.pane.set_edgecolor('#d8d8d8')
    a.line.set_color(AXC)
    a.line.set_linewidth(1.6)
    a._axinfo['grid'].update(color='#dcdcdc', linewidth=1.4)

# fit the projected box onto the reference location
fig.canvas.draw()


def to_px(x, y, z):
    M = ax3.get_proj()
    v = M @ np.array([x, y, z, 1.0])
    return np.array(ax3.transData.transform((v[0] / v[3], v[1] / v[3])))


O = to_px(-20, 10, 0)
P = to_px(-20, -10, 0)
tO = np.array([1703.0, H - 2160.0])
tP = np.array([2051.0, H - 2414.0])
s = np.linalg.norm(tP - tO) / np.linalg.norm(P - O)
bb = ax3.get_position()
c0 = np.array([(bb.x0 + bb.x1) / 2 * W, (bb.y0 + bb.y1) / 2 * H])
Sc = bb.width * W
c1 = tO - s * (O - c0)
S1 = s * Sc
ax3.set_position([(c1[0] - S1 / 2) / W, (c1[1] - S1 / 2) / H, S1 / W, S1 / H])
fig.canvas.draw()

# tick labels of the 3D box, placed next to the projected tick locations
TFS3 = 29
for zt in Z3_TICKS:
    p = to_px(-20, 10, zt)
    fig.text((p[0] - 38) / W, (p[1] + 12) / H, f'{zt:g}', ha='center', va='center',
             fontsize=TFS3, color=AXC)
for yt in Y3_TICKS:
    p = to_px(-20, yt, 0)
    fig.text((p[0] - 45) / W, (p[1] - 36) / H, f'{yt:g}', ha='center', va='center',
             fontsize=TFS3, color=AXC)
for xt in X3_TICKS:
    p = to_px(xt, -10, 0)
    fig.text((p[0] + 45) / W, (p[1] - 40) / H, f'{xt:g}', ha='center', va='center',
             fontsize=TFS3, color=AXC)

fig.text(2098 / W, 1 - 1401 / H, '3D Trajectory', ha='center', va='center', fontsize=30)
fig.text(1598 / W, 1 - 1890 / H, 'Z Direction', ha='center', va='center', fontsize=30,
         rotation=90, color=AXC)
fig.text(1747 / W, 1 - 2438 / H, 'Y Direction', ha='center', va='center', fontsize=30, color=AXC)
fig.text(2385 / W, 1 - 2453 / H, 'X Direction', ha='center', va='center', fontsize=30, color=AXC)
lg = fig.legend([r3, b3], ['Reference Path', 'MDSMAC Trajectory'], loc='upper left',
                bbox_to_anchor=(2614 / W, 1 - 1426 / H), borderaxespad=0, fontsize=25,
                handlelength=3.2, handletextpad=0.4, borderpad=0.3, labelspacing=0.2,
                fancybox=False, framealpha=1, edgecolor='black')
lg.get_frame().set_linewidth(2)

# ----- panel letters -----
for lab, (px, py) in {'(a)': (816, 1310), '(b)': (2329, 1310),
                      '(c)': (822, 2556), '(d)': (2329, 2556)}.items():
    fig.text(px / W, 1 - py / H, lab, ha='center', va='center', fontsize=50,
             family=['Liberation Serif', 'DejaVu Serif'], weight='bold')

fig.savefig('out.png', dpi=100, facecolor='white')
